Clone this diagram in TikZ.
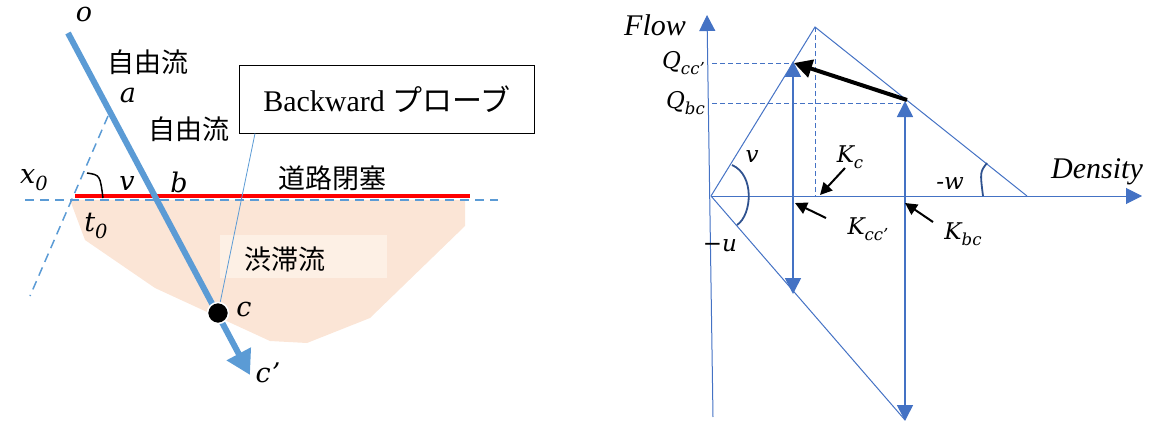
\documentclass[tikz,border=0pt]{standalone}
\usepackage{fontspec}
\setmainfont{Liberation Serif}
\newfontfamily\lbl{DejaVu Serif}
\newfontfamily\jp{Noto Sans CJK JP}
\usetikzlibrary{arrows.meta,calc}
\definecolor{lblue}{HTML}{5B9BD5}
\definecolor{dblue}{HTML}{4472C4}
\definecolor{arcblue}{HTML}{2F528F}
\definecolor{peach}{HTML}{FBE5D6}
\definecolor{peachl}{HTML}{FDF0E5}
\newcommand{\sbs}[1]{\raisebox{-0.28em}{\fontsize{0.72em}{0.8em}\selectfont #1}}
\begin{document}
\begin{tikzpicture}[x=1pt,y=-1pt,
  lab/.style={font=\lbl\itshape\fontsize{27}{30}\selectfont, inner sep=0pt},
  slab/.style={font=\lbl\itshape\fontsize{23}{27}\selectfont, inner sep=0pt},
  jplab/.style={font=\jp\fontsize{27}{30}\selectfont, inner sep=0pt},
  dash1/.style={lblue, line width=1.5pt, dash pattern=on 9pt off 6pt},
  ax/.style={dblue, line width=1pt},
  dax/.style={dblue, line width=0.8pt, dash pattern=on 5pt off 3pt},
  tip/.style={-{Triangle[length=16pt,width=16pt]}},
  btip/.style={{Triangle[length=16pt,width=16pt]}-{Triangle[length=16pt,width=16pt]}},
  karrow/.style={black, line width=2pt, -{Triangle[length=12pt,width=12pt]}}]
\useasboundingbox (0,0) rectangle (1160,428);
% ---------- left diagram ----------
\fill[peach] (70,200) -- (465,200) -- (465,226) -- (370,318) -- (307,343) -- (270,341) -- (155,288) -- (85,240) -- cycle;
\fill[peachl] (220,235) rectangle (387,278);
\node[jplab] (jam) at (285,259) {渋滞流};
\coordinate (hl) at (25,200);
\coordinate (hr) at (498,200);
\draw[dash1] (hl) -- (hr);
\coordinate (sl1) at (108,116);
\coordinate (sl2) at (30,296);
\draw[dash1] (sl1) -- (sl2);
\coordinate (rl) at (75,196);
\coordinate (rr) at (470,196);
\draw[red, line width=4pt] (rl) -- (rr);
\coordinate (o) at (68,33);
\coordinate (cp) at (250,375);
\draw[lblue, line width=6pt, -{Triangle[length=24pt,width=26pt]}] (o) -- (cp);
\node[draw, line width=1pt, minimum width=295pt, minimum height=67pt, inner sep=0pt,
      font=\fontsize{30}{34}\selectfont] (bp) at (387,99.5) {Backward {\jp プローブ}};
\node[circle, fill=black, draw=white, line width=1.5pt, minimum size=21pt, inner sep=0pt] (c) at (218,313) {};
\coordinate (bpa) at ($(bp.south west)+(16,0)$);
\draw[lblue, line width=0.8pt] (bpa) -- (c);
\coordinate (va1) at (87,173);
\coordinate (va2) at (103,198);
\draw[black, line width=1.5pt] (va1) .. controls (100,175) .. (va2);
\node[lab] (lo) at (84,14) {o};
\node[lab] (la) at (128,95) {a};
\node[lab] (lb) at (179,182) {b};
\node[lab] (lv) at (127,183) {v};
\node[lab] (lc) at (244,309) {c};
\node[lab] (lcp) at (268,373) {c\kern1pt’};
\node[lab] (lx) at (34,180) {x\sbs{0}};
\node[lab] (lt) at (96,226) {t\sbs{0}};
\node[jplab] (ff1) at (148,62) {自由流};
\node[jplab] (ff2) at (189,129) {自由流};
\node[jplab] (block) at (332,178) {道路閉塞};
% ---------- right diagram ----------
\coordinate (O) at (711,196);
\coordinate (fb) at (713,417);
\coordinate (ft) at (707,15);
\draw[ax, tip] (fb) -- (ft);
\coordinate (dr) at (1142,196);
\draw[ax, tip] (O) -- (dr);
\coordinate (pk) at (815,27);
\coordinate (re) at (1027,196);
\coordinate (lo2) at (905,420);
\draw[ax] (O) -- (pk) -- (re);
\draw[ax] (O) -- (lo2);
\coordinate (pkb) at (815,196);
\draw[dax] (pk) -- (pkb);
\coordinate (qc1) at (712,63);
\coordinate (qc2) at (793,63);
\draw[dax] (qc1) -- (qc2);
\coordinate (qb1) at (712,103);
\coordinate (qb2) at (905,103);
\draw[dax] (qb1) -- (qb2);
\coordinate (v1t) at (793,61);
\coordinate (v1b) at (793,294);
\draw[dblue, line width=1.6pt, btip] (v1b) -- (v1t);
\coordinate (v2t) at (905,101);
\coordinate (v2b) at (905,421);
\draw[dblue, line width=1.6pt, btip] (v2b) -- (v2t);
\coordinate (bs) at (907,100);
\coordinate (be) at (794,63);
\draw[black, line width=4pt, -{Triangle[length=18pt,width=18pt]}] (bs) -- (be);
\coordinate (k1s) at (845,168);
\coordinate (k1e) at (820,195);
\draw[karrow] (k1s) -- (k1e);
\coordinate (k2s) at (826,218);
\coordinate (k2e) at (795,203);
\draw[karrow] (k2s) -- (k2e);
\coordinate (k3s) at (933,222);
\coordinate (k3e) at (905,203);
\draw[karrow] (k3s) -- (k3e);
\coordinate (a1) at (732,165);
\coordinate (a2) at (737,225);
\draw[arcblue, line width=1.8pt] (a1) .. controls (755,175) and (752,215) .. (a2);
\coordinate (w1) at (987,163);
\coordinate (w2) at (983,196);
\draw[arcblue, line width=1.8pt] (w1) .. controls (980,172) .. (w2);
\node[font=\itshape\fontsize{30}{34}\selectfont, inner sep=0pt] (lflow) at (655,25) {Flow};
\node[font=\itshape\fontsize{30}{34}\selectfont, inner sep=0pt] (lden) at (1097,172) {Density};
\node[slab, anchor=east] (lq1) at (705,63) {Q\sbs{cc’}};
\node[slab, anchor=east] (lq2) at (705,103) {Q\sbs{bc}};
\node[slab] (lkc) at (850,157) {K\sbs{c}};
\node[slab] (lkcc) at (868,229) {K\sbs{cc’}};
\node[slab] (lkbc) at (963,234) {K\sbs{bc}};
\node[slab] (lvr) at (752,157) {v};
\node[slab] (lu) at (720,246) {−u};
\node[slab] (lw) at (950,184) {-w};
\end{tikzpicture}
\end{document}
